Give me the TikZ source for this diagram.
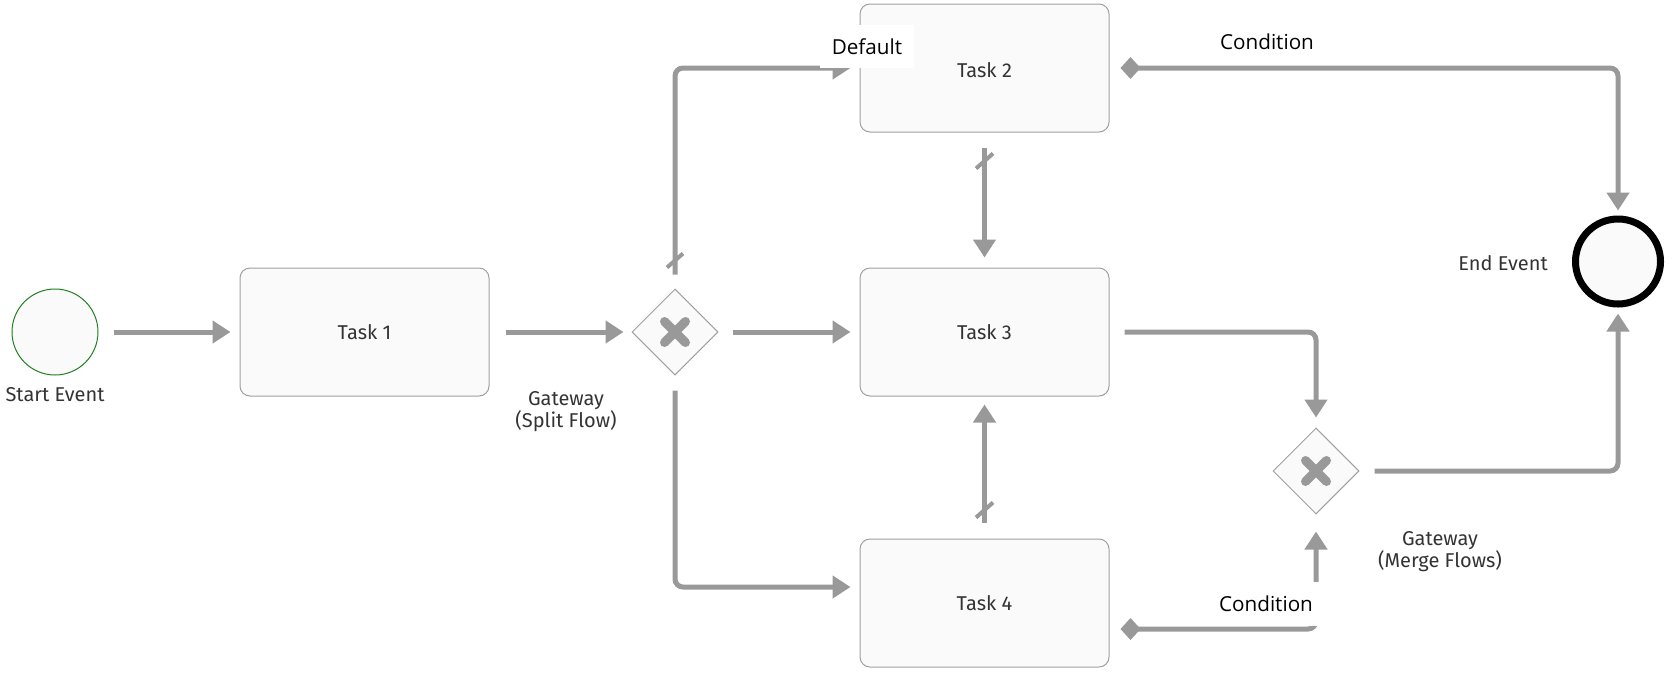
\documentclass[tikz,border=0pt]{standalone}
\usepackage{fontspec}
\setmainfont{Fira Sans}
\newfontfamily\lblfont{Open Sans}
\usetikzlibrary{arrows.meta,shapes.geometric,calc}
\definecolor{flowgray}{RGB}{153,153,153}
\definecolor{boxfill}{RGB}{250,250,250}
\definecolor{boxline}{RGB}{160,160,160}
\definecolor{startgreen}{RGB}{34,128,34}
\definecolor{txt}{RGB}{51,51,51}
\begin{document}
\begin{tikzpicture}[x=0.75pt,y=-0.75pt,
  task/.style={draw=boxline, fill=boxfill, line width=0.75pt, rounded corners=7.5pt,
    minimum width=186.75pt, minimum height=96pt, inner sep=0pt,
    font=\fontsize{15}{17}\selectfont, text=txt},
  gateway/.style={diamond, aspect=1, draw=boxline, fill=boxfill, line width=0.75pt,
    minimum width=64.5pt, minimum height=64.5pt, inner sep=0pt},
  startev/.style={circle, draw=startgreen, fill=boxfill, line width=0.75pt,
    minimum size=64.5pt, inner sep=0pt},
  endev/.style={circle, draw=black, fill=boxfill, line width=5.25pt,
    minimum size=63.75pt, inner sep=0pt},
  lbl/.style={font=\fontsize{15}{17}\selectfont, text=txt, align=center, inner sep=0pt},
  condlbl/.style={font=\lblfont\fontsize{15.5}{18}\selectfont, text=black, fill=white, inner sep=0pt},
  flow/.style={draw=flowgray, line width=3.75pt, rounded corners=6pt,
    -{Triangle[length=13.5pt,width=16.5pt]}},
  cond/.style={draw=flowgray, line width=3.75pt, rounded corners=6pt,
    {Diamond[length=15pt,width=16.5pt]}-{Triangle[length=13.5pt,width=16.5pt]}},
  slashmark/.style={draw=flowgray, line width=3pt},
  crossline/.style={draw=flowgray, line width=6.75pt, line cap=round}
]
\useasboundingbox (0,0) rectangle (1674,679);

% nodes
\node[startev] (start) at (55,332) {};
\node[lbl] (startlbl) at (55,395) {Start Event};
\node[task] (task1) at (364.5,332) {Task 1};
\node[gateway] (gw1) at (675,332) {};
\node[lbl] (gw1lbl) at (566,411.5) {Gateway\\(Split Flow)};
\node[task] (task2) at (984.5,68) {};
\node[task, draw=none, fill=none] (task2txt) at (984.5,70.5) {Task 2};
\node[task] (task3) at (984.5,332) {Task 3};
\node[task] (task4) at (984.5,603) {Task 4};
\node[gateway] (gw2) at (1316,471) {};
\node[lbl] (gw2lbl) at (1440,551.5) {Gateway\\(Merge Flows)};
\node[endev] (end) at (1618,261.5) {};
\node[lbl] (endlbl) at (1503,263) {End Event};

% gateway crosses
\foreach \g in {gw1,gw2}{
  \draw[crossline] ($(\g)+(-10.5,-10.5)$) -- ($(\g)+(10.5,10.5)$);
  \draw[crossline] ($(\g)+(-10.5,10.5)$) -- ($(\g)+(10.5,-10.5)$);
}

% connectors
\draw[flow, shorten <=11.25pt, shorten >=6.75pt] (start.east) -- (task1.west);
\draw[flow, shorten <=12pt, shorten >=6pt] (task1.east) -- (gw1.west);
\draw[flow, shorten <=10.5pt, shorten >=6.75pt] (gw1.north) |- (task2.west);
\draw[slashmark] ($(gw1.north)+(-8,-21)$) -- ($(gw1.north)+(8,-35)$);
\draw[flow, shorten <=10.5pt, shorten >=6.75pt] (gw1.east) -- (task3.west);
\draw[flow, shorten <=11.25pt, shorten >=6.75pt] (gw1.south) |- ($(task4.west)+(0,-16)$);
\draw[flow, shorten <=11.25pt, shorten >=7.5pt] (task2.south) -- (task3.north);
\draw[slashmark] ($(task2.south)+(-8.5,36)$) -- ($(task2.south)+(8.5,21)$);
\draw[flow, shorten <=12pt, shorten >=6pt] (task4.north) -- (task3.south);
\draw[slashmark] ($(task4.north)+(-8.5,-21)$) -- ($(task4.north)+(8.5,-36)$);
\draw[flow, shorten <=11.25pt, shorten >=7.5pt] (task3.east) -| (gw2.north);
\draw[flow, shorten <=11.25pt, shorten >=4.5pt] (gw2.east) -| (end.south);
\draw[cond, shorten <=8.25pt, shorten >=3.75pt] (task2.east) -| (end.north);
\draw[cond, shorten <=8.25pt, shorten >=12.75pt] ($(task4.east)+(0,26)$) -| (gw2.south);

% labels with white background
\node[condlbl, minimum width=70.5pt, minimum height=32.25pt] (deflbl) at (867,46.5) {Default};
\node[condlbl, minimum width=70.5pt, minimum height=32.25pt] (cond1lbl) at (1267,42) {Condition};
\node[condlbl, minimum width=84.75pt, minimum height=33pt] (cond2lbl) at (1266,604) {Condition};
\end{tikzpicture}
\end{document}
